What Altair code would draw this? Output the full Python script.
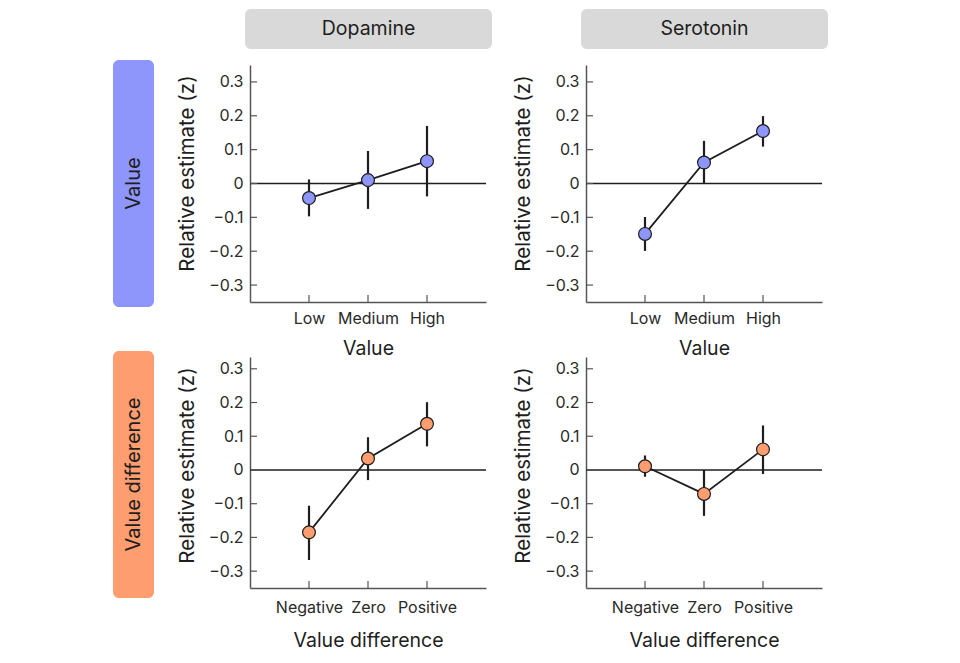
import altair as alt
import pandas as pd

# ---------------- data ----------------
columns_names = ["Dopamine", "Serotonin"]
row_names = ["Value", "Value difference"]

value_levels = ["Low", "Medium", "High"]
diff_levels = ["Negative", "Zero", "Positive"]

dopamine_value_mean = [-0.043, 0.010, 0.066]
dopamine_value_lo = [-0.097, -0.075, -0.038]
dopamine_value_hi = [0.012, 0.096, 0.170]

serotonin_value_mean = [-0.149, 0.062, 0.155]
serotonin_value_lo = [-0.199, 0.000, 0.109]
serotonin_value_hi = [-0.099, 0.126, 0.199]

dopamine_diff_mean = [-0.185, 0.034, 0.137]
dopamine_diff_lo = [-0.267, -0.030, 0.070]
dopamine_diff_hi = [-0.106, 0.097, 0.201]

serotonin_diff_mean = [0.011, -0.071, 0.061]
serotonin_diff_lo = [-0.020, -0.136, -0.012]
serotonin_diff_hi = [0.043, 0.000, 0.132]

y_tick_values = [-0.3, -0.2, -0.1, 0.0, 0.1, 0.2, 0.3]

# ---------------- style ----------------
FONT = "Inter"
BLUE = "#8e96fb"
ORANGE = "#fd9d70"
HEADER_GREY = "#d9d9d9"
INK = "#1e1e1e"
AXIS_GREY = "#555555"

PW = 236           # panel plot width
H_TOP = 237        # top row plot height
H_BOT = 231        # bottom row plot height
COLW = 281         # column cell width
LABW = 82          # label column width

Y_TITLE = "Relative estimate (z)"


def panel(cats, mean, lo, hi, color, height, ytop, xtitle, lab_pad, title_pad):
    df = pd.DataFrame({"cat": cats, "idx": list(range(len(cats))),
                       "v": mean, "lo": lo, "hi": hi})
    xs = alt.Scale(type="point", domain=cats, padding=1)
    ys = alt.Scale(domain=[-0.35, ytop], nice=False, zero=False)

    x_axis = alt.Axis(title=xtitle, ticks=False, tickSize=0, labelPadding=lab_pad,
                      titlePadding=title_pad, labelAngle=0)
    y_axis = alt.Axis(title=Y_TITLE, values=y_tick_values,
                      ticks=False, tickSize=0, labelPadding=7, titlePadding=11,
                      titleFontSize=20.5, titleY=108,
                      labelExpr="datum.value == 0 ? '0' : replace(format(datum.value, '.1f'), '-', '\u2212')")

    X = alt.X("cat:N", scale=xs, sort=cats, axis=x_axis, title=xtitle)

    def Y(field):
        return alt.Y(field, scale=ys, axis=y_axis, title=Y_TITLE)

    base = alt.Chart(df)
    zero = alt.Chart(pd.DataFrame({"v": [0.0]})).mark_rule(
        color=INK, strokeWidth=1.5).encode(y=Y("v:Q"))
    err = base.mark_rule(color=INK, strokeWidth=2.2).encode(
        x=X, y=Y("lo:Q"), y2="hi:Q")
    line = base.mark_line(color=INK, strokeWidth=1.8).encode(
        x=X, y=Y("v:Q"), order=alt.Order("idx:Q"))
    pts = base.mark_circle(size=165, color=color, opacity=1,
                           stroke=INK, strokeWidth=1.2).encode(x=X, y=Y("v:Q"))
    yt = alt.Chart(pd.DataFrame({"v": y_tick_values})).mark_rule(
        color=AXIS_GREY, strokeWidth=1.2).encode(
        y=Y("v:Q"), x=alt.value(0), x2=alt.value(7))
    xt = alt.Chart(pd.DataFrame({"cat": cats})).mark_rule(
        color=AXIS_GREY, strokeWidth=1.2).encode(
        x=X, y=alt.value(height), y2=alt.value(height - 7))
    return alt.layer(err, zero, line, pts, yt, xt).properties(width=PW, height=height)


def header(name):
    d = pd.DataFrame({"name": [name]})
    box = alt.Chart(d).mark_rect(color=HEADER_GREY, cornerRadius=6).encode(
        x=alt.value(-5), x2=alt.value(242), y=alt.value(0), y2=alt.value(40))
    txt = alt.Chart(d).mark_text(fontSize=19.5, color=INK, font=FONT,
                                 baseline="middle", align="center").encode(
        x=alt.value(118.5), y=alt.value(20), text="name:N")
    return alt.layer(box, txt).properties(width=COLW, height=1)


def row_label(name, color, height, top, bottom):
    d = pd.DataFrame({"name": [name]})
    box = alt.Chart(d).mark_rect(color=color, cornerRadius=6).encode(
        x=alt.value(0), x2=alt.value(41), y=alt.value(top), y2=alt.value(bottom))
    txt = alt.Chart(d).mark_text(fontSize=20, color=INK, font=FONT, angle=270,
                                 baseline="middle", align="center").encode(
        x=alt.value(21), y=alt.value((top + bottom) / 2), text="name:N")
    return alt.layer(box, txt).properties(width=LABW, height=height)


empty = alt.Chart(pd.DataFrame({"e": [0]})).mark_rect(opacity=0).encode(
    x=alt.value(0), x2=alt.value(1), y=alt.value(0), y2=alt.value(1)
).properties(width=LABW, height=1)

cells = [
    empty, header(columns_names[0]), header(columns_names[1]),
    row_label(row_names[0], BLUE, H_TOP, -5, 242),
    panel(value_levels, dopamine_value_mean, dopamine_value_lo, dopamine_value_hi,
          BLUE, H_TOP, 0.35, row_names[0], 8, 13),
    panel(value_levels, serotonin_value_mean, serotonin_value_lo, serotonin_value_hi,
          BLUE, H_TOP, 0.35, row_names[0], 8, 13),
    row_label(row_names[1], ORANGE, H_BOT, -6, 241),
    panel(diff_levels, dopamine_diff_mean, dopamine_diff_lo, dopamine_diff_hi,
          ORANGE, H_BOT, 0.335, row_names[1], 11, 16),
    panel(diff_levels, serotonin_diff_mean, serotonin_diff_lo, serotonin_diff_hi,
          ORANGE, H_BOT, 0.335, row_names[1], 11, 16),
]

chart = alt.concat(*cells, columns=3, spacing=55, bounds="flush").properties(
    padding={"left": 105, "top": 1, "right": 5, "bottom": 5}
).configure(
    font=FONT, background="white"
).configure_view(
    stroke=None
).configure_axis(
    grid=False,
    domainColor=AXIS_GREY, domainWidth=1.5,
    labelFont=FONT, labelFontSize=16, labelColor="#2a2a2a",
    titleFont=FONT, titleFontSize=19.5, titleFontWeight="normal", titleColor=INK,
)

chart.save("out.html", embed_options={"renderer": "svg", "actions": False})
